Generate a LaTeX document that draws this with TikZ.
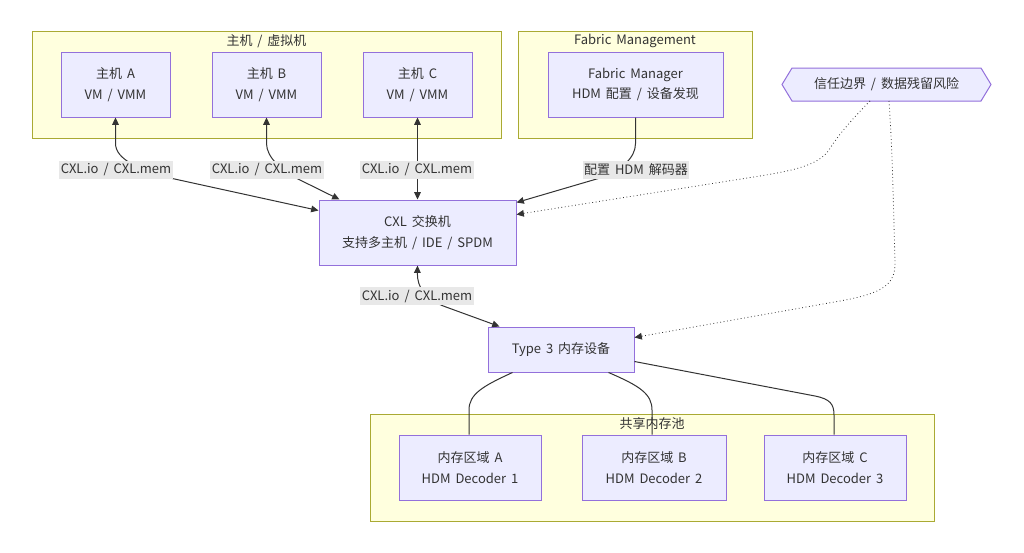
\documentclass[tikz,border=0pt]{standalone}
\usepackage{fontspec}
\setmainfont[WordSpace=1.7]{Noto Sans CJK SC}
\usetikzlibrary{arrows.meta,calc}
\definecolor{nodefill}{HTML}{ECECFF}
\definecolor{nodeline}{HTML}{9370DB}
\definecolor{clfill}{HTML}{FFFFDE}
\definecolor{clline}{HTML}{AAAA33}
\definecolor{ink}{HTML}{333333}
\definecolor{lblbg}{HTML}{E8E8E8}
\tikzset{
  sz/.style 2 args={minimum width=#1*0.75pt, minimum height=#2*0.75pt},
  box/.style={draw=nodeline, fill=nodefill, line width=0.75pt, inner sep=0pt, align=center, text=ink,
    font=\fontsize{9.75}{15.5}\selectfont},
  cluster/.style={draw=clline, fill=clfill, line width=0.75pt, inner sep=0pt},
  ctitle/.style={text=ink, font=\fontsize{9.75}{11}\selectfont, inner sep=0pt},
  lbl/.style={fill=lblbg, text=ink, font=\fontsize{9.75}{11}\selectfont, inner xsep=1pt, inner ysep=2pt},
  edge/.style={draw=ink, line width=0.75pt},
  tip/.style={-{Triangle[length=5.5pt,width=5pt]}},
  tips/.style={{Triangle[length=5.5pt,width=5pt]}-{Triangle[length=5.5pt,width=5pt]}},
  dot/.style={draw=ink, line width=0.6pt, dotted}
}
\begin{document}
\begin{tikzpicture}[x=0.75pt,y=-0.75pt]
\useasboundingbox (0,0) rectangle (1024,553);
\fill[white] (0,0) rectangle (1024,553);
% clusters
\node[cluster, sz={469}{107}] (clH) at (266.5,84.5) {};
\node[ctitle] (tH) at (266.5,41) {主机 / 虚拟机};
\node[cluster, sz={234}{107}] (clF) at (635,84.5) {};
\node[ctitle] (tF) at (635,41) {Fabric Management};
\node[cluster, sz={564}{107}] (clP) at (652,467.5) {};
\node[ctitle] (tP) at (652,424) {共享内存池};
% nodes
\node[box, sz={109}{65}] (hA) at (115.5,84.5) {主机 A\\VM / VMM};
\node[box, sz={109}{65}] (hB) at (266.5,84.5) {主机 B\\VM / VMM};
\node[box, sz={109}{65}] (hC) at (417.5,84.5) {主机 C\\VM / VMM};
\node[box, sz={175}{65}] (fm) at (635.5,84.5) {Fabric Manager\\HDM 配置 / 设备发现};
\node[box, sz={197}{65}] (sw) at (417.5,232.5) {CXL 交换机\\支持多主机 / IDE / SPDM};
\node[box, sz={146}{45}] (t3) at (561,349.5) {Type 3 内存设备};
\node[box, sz={142}{65}] (rA) at (470,467.5) {内存区域 A\\HDM Decoder 1};
\node[box, sz={144}{65}] (rB) at (654,467.5) {内存区域 B\\HDM Decoder 2};
\node[box, sz={142}{65}] (rC) at (835,467.5) {内存区域 C\\HDM Decoder 3};
% trust boundary hexagon
\draw[draw=nodeline, fill=nodefill, line width=0.75pt]
  (782,84.5) -- (792,68) -- (981,68) -- (991,84.5) -- (981,101) -- (792,101) -- cycle;
\node[text=ink, font=\fontsize{9.75}{11}\selectfont, inner sep=0pt] (tb) at (886.5,84.5) {信任边界 / 数据残留风险};
\coordinate (tbA) at (870,101);
\coordinate (tbB) at (889,101);
% edges hosts <-> switch
\draw[edge, tips] (hA.south) -- ++(0,26) .. controls ++(0,16) and (140,170) .. (170,178) -- ($(sw.north west)+(0,11)$);
\draw[edge, tips] (hB.south) -- ++(0,26) .. controls ++(0,14) and (282,171) .. (300,180) -- ($(sw.north west)+(21,0)$);
\draw[edge, tips] (hC.south) -- (sw.north);
\draw[edge, tip] (fm.south) -- ++(0,26) .. controls ++(0,14) and (622,170) .. (600,178) -- ($(sw.north east)+(0,3)$);
% dotted trust edges
\draw[dot, tip] (tbA) .. controls (855,116) and (838,135) .. (829,150) .. controls (818,166) and (790,171) .. (760,176) -- ($(sw.north east)+(0,15)$);
\draw[dot, tip] (tbB) .. controls (892,150) .. (895,262) .. controls (896,287) and (878,294) .. (840,301) -- ($(t3.north east)+(0,11)$);
% switch <-> type3
\draw[edge, tips] (sw.south) .. controls (417,288) and (426,300) .. (446,307) -- ($(t3.north west)+(12,0)$);
% type3 -> regions
\draw[edge] ($(t3.south west)+(25,0)$) .. controls (483,386) and (469,394) .. (469,410) -- (rA.north -| 469,0);
\draw[edge] ($(t3.south west)+(121,0)$) .. controls (640,386) and (652,394) .. (652,410) -- (rB.north -| 652,0);
\draw[edge] ($(t3.north east)+(0,35)$) -- (815,396) .. controls (830,399) and (834,404) .. (834,415) -- (rC.north -| 834,0);
% labels
\node[lbl] (lA) at (116,170) {CXL.io / CXL.mem};
\node[lbl] (lB) at (267,170) {CXL.io / CXL.mem};
\node[lbl] (lC) at (417,170) {CXL.io / CXL.mem};
\node[lbl] (lF) at (636,170) {配置 HDM 解码器};
\node[lbl] (lS) at (417,296) {CXL.io / CXL.mem};
\end{tikzpicture}
\end{document}
